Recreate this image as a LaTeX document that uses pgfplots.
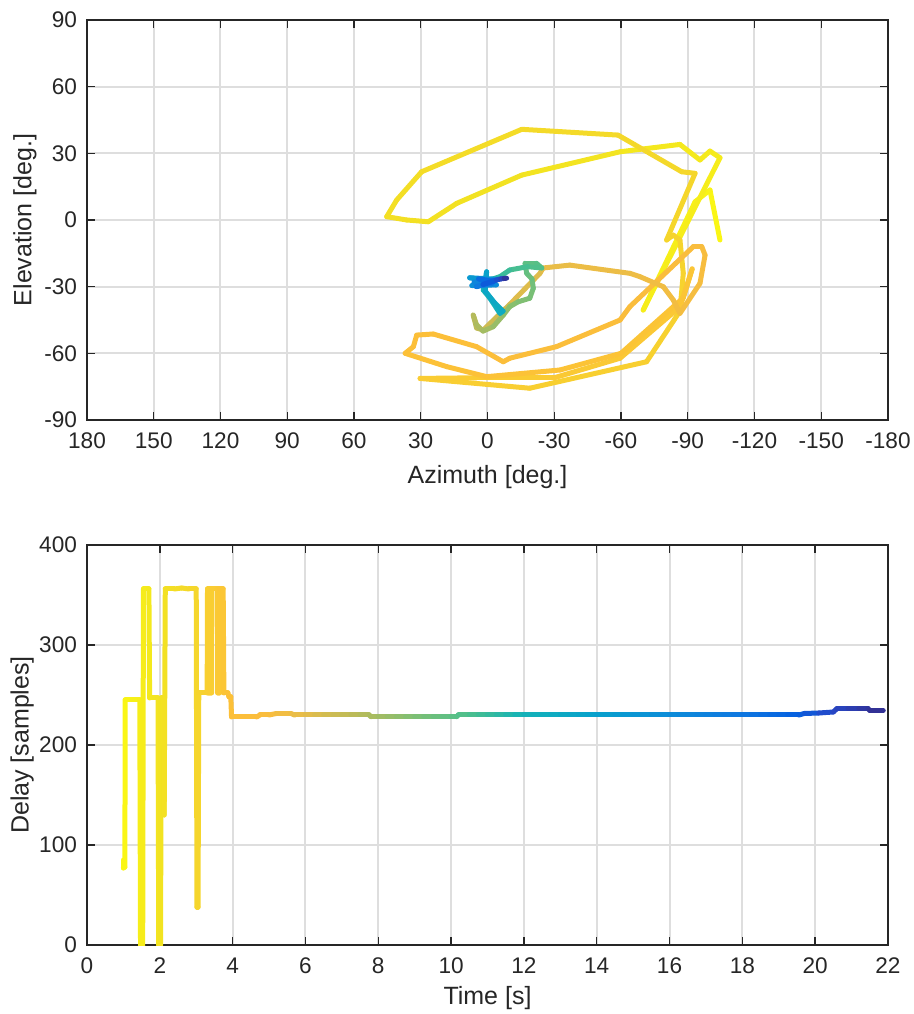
\documentclass[border=0pt]{standalone}
\usepackage{fontspec}
\setmainfont{Liberation Sans}
\usepackage{pgfplots}
\pgfplotsset{compat=1.18}
\pgfplotsset{
  colormap={tcm}{rgb(0pt)=(0.98,0.98,0.06) rgb(10pt)=(0.98,0.97,0.08) rgb(20pt)=(0.95,0.89,0.13) rgb(30pt)=(0.96,0.84,0.17) rgb(35pt)=(0.98,0.80,0.20) rgb(40pt)=(0.99,0.75,0.22) rgb(50pt)=(0.98,0.74,0.24) rgb(60pt)=(0.90,0.74,0.29) rgb(75pt)=(0.72,0.73,0.35) rgb(90pt)=(0.50,0.75,0.45) rgb(105pt)=(0.30,0.75,0.55) rgb(120pt)=(0.08,0.70,0.72) rgb(140pt)=(0.03,0.63,0.80) rgb(160pt)=(0.05,0.55,0.85) rgb(180pt)=(0.06,0.47,0.88) rgb(195pt)=(0.02,0.38,0.88) rgb(205pt)=(0.15,0.28,0.78) rgb(220pt)=(0.21,0.17,0.53)},
  mlab/.style={
    scale only axis, width=400.5pt, height=200pt,
    colormap name=tcm, point meta min=0, point meta max=22,
    grid=major, grid style={line width=1pt, color=black!13},
    axis line style={line width=0.7pt, black!85},
    major tick length=4pt, tick style={line width=0.7pt, black!85},
    tick align=inside,
    /pgf/number format/assume math mode=true,
    ticklabel style={font=\fontsize{11.3}{13}\selectfont, text=black!85},
    label style={font=\fontsize{12.5}{15}\selectfont, text=black!85},
    xticklabel style={yshift=-3pt},
    yticklabel style={xshift=-1.5pt},
  },
  traj/.style={mesh, point meta=explicit, line width=2.5pt, line cap=round, line join=round},
}
\begin{document}
\begin{tikzpicture}
\useasboundingbox (-43.5pt,-34.5pt) rectangle (413.5pt,472.5pt);
\begin{axis}[mlab, at={(0,262.5pt)},
  x dir=reverse, xmin=-180, xmax=180, ymin=-90, ymax=90,
  xtick={-180,-150,...,180}, ytick={-90,-60,...,90},
  xlabel={Azimuth [deg.]}, ylabel={Elevation [deg.]},
  xlabel style={at={(axis description cs:0.5,-0.1425)}, anchor=center},
  ylabel style={at={(axis description cs:-0.0774,0.5)}, anchor=center},
]
\addplot[traj] table[x=az, y=el, meta=t] {
t az el
1.00 -104.5 -9
1.10 -100 13.5
1.18 -93.3 8.2
1.40 -70 -40.5
1.60 -104.5 28
1.63 -100 31
1.66 -95.5 27
1.70 -86.5 34
1.85 -59.6 30.7
2.05 -15.4 20.2
2.15 13.8 7.5
2.20 26.6 -0.8
2.25 36.3 0
2.30 45.3 1.5
2.35 40.8 9
2.45 29.6 21.7
2.65 -15.4 40.8
2.80 -58.7 38.2
2.92 -87.3 21.7
2.95 -93.3 21
3.05 -80.5 -9
3.08 -83.5 -6.8
3.10 -86.5 -9
3.15 -88 -24
3.20 -86.5 -41
3.28 -71.5 -63.8
3.38 -19 -75.7
3.47 30.3 -71.3
3.52 5 -71
3.57 -30 -71
3.63 -59.6 -62.2
3.70 -86.6 -39
3.74 -92 -22
3.77 -88 -35
3.82 -60 -60
3.86 -32.6 -67.5
3.90 0.4 -70.5
3.93 18.3 -66
3.96 37 -60
4.00 33.3 -57
4.05 31.8 -51.8
4.10 24.4 -51.3
4.25 4.9 -57
4.35 -7.1 -63.8
4.40 -10 -62.2
4.55 -31 -57
4.75 -59.6 -45
4.80 -64 -39
5.00 -92.5 -12
5.05 -96.3 -12
5.10 -97.8 -15.8
5.20 -95.5 -28.5
5.30 -86.5 -42
5.35 -83.5 -36
5.45 -79 -30
5.55 -68.5 -25.5
5.60 -64 -24
5.80 -37 -20.3
5.90 -25 -21.6
6.00 -23.6 -24
6.50 -10 -38
7.00 1.9 -49.5
7.20 4.9 -48.6
7.50 6.4 -42.8
7.70 5 -47
7.90 2 -50
8.20 -2.6 -48
8.50 -7.1 -42.8
8.70 -10 -39
8.90 -13.8 -36.8
9.10 -19 -35.2
9.30 -20.6 -30.7
9.50 -20 -26.5
9.70 -17.6 -24
9.90 -16.9 -19.5
10.10 -22 -19.5
10.30 -24.4 -21.6
10.50 -18 -21
10.80 -10 -22.5
11.10 -5.6 -25.5
11.40 -1 -27
11.80 1.9 -31.5
12.20 -1.1 -35.2
12.60 -5.6 -42
12.80 -7 -41
13.10 -3 -37
13.40 1 -32
13.70 0.4 -23.3
14.00 1 -27
14.50 8 -26
15.00 -5 -26.7
15.50 7 -29.5
16.00 -4 -29.2
16.50 6 -28
17.00 -3 -27
17.50 5 -30
18.00 -2 -28.5
18.50 4 -26.5
19.00 -3 -27.5
19.50 2 -29
20.00 -4 -27
20.50 -6 -26.5
21.00 -7.5 -26.3
22.00 -8.6 -26.2
};
\end{axis}
\begin{axis}[mlab, at={(0,0)},
  xmin=0, xmax=22, ymin=0, ymax=400,
  xtick={0,2,...,22}, ytick={0,100,...,400},
  xlabel={Time [s]}, ylabel={Delay [samples]},
  xlabel style={at={(axis description cs:0.5,-0.1325)}, anchor=center},
  ylabel style={at={(axis description cs:-0.0811,0.5)}, anchor=center},
]
\addplot[traj] table[x=t, y=d, meta=t] {
t d
1.00 85
1.00 77
1.04 78
1.05 245
1.25 245
1.45 245
1.47 0
1.53 0
1.55 356
1.70 356
1.72 247
1.85 247
1.95 247
1.97 0
2.02 0
2.04 247
2.10 247
2.12 130
2.15 356
2.40 356
2.60 357
2.80 356
3.00 356
3.02 38
3.05 38
3.07 252
3.20 252
3.30 252
3.31 356
3.32 356
3.33 252
3.34 252
3.35 356
3.36 356
3.37 252
3.38 252
3.39 356
3.40 356
3.41 252
3.42 252
3.43 356
3.58 356
3.59 252
3.60 252
3.61 356
3.62 356
3.63 252
3.64 252
3.65 356
3.74 356
3.76 252
3.87 252
3.90 248
3.95 248
3.97 228
4.20 228
4.40 228
4.66 228
4.75 230
5.00 230
5.20 231.5
5.60 231.5
5.70 230
6.00 230
6.25 230
6.50 230
6.75 230
7.00 230
7.25 230
7.50 230
7.75 230
7.80 228.3
8.00 228.3
8.25 228.3
8.50 228.3
8.75 228.3
9.00 228.3
9.25 228.3
9.50 228.3
9.75 228.3
10.00 228.3
10.15 228.3
10.20 230
10.50 230
10.75 230
11.00 230
11.25 230
11.50 230
11.75 230
12.00 230
12.25 230
12.50 230
12.75 230
13.00 230
13.25 230
13.50 230
13.75 230
14.00 230
14.25 230
14.50 230
14.75 230
15.00 230
15.25 230
15.50 230
15.75 230
16.00 230
16.25 230
16.50 230
16.75 230
17.00 230
17.25 230
17.50 230
17.75 230
18.00 230
18.25 230
18.50 230
18.75 230
19.00 230
19.25 230
19.55 230
19.70 231.5
20.10 232
20.50 233
20.60 236.5
20.90 236.5
21.20 236.5
21.45 236.5
21.50 234.5
21.87 234.5
};
\end{axis}
\end{tikzpicture}
\end{document}
